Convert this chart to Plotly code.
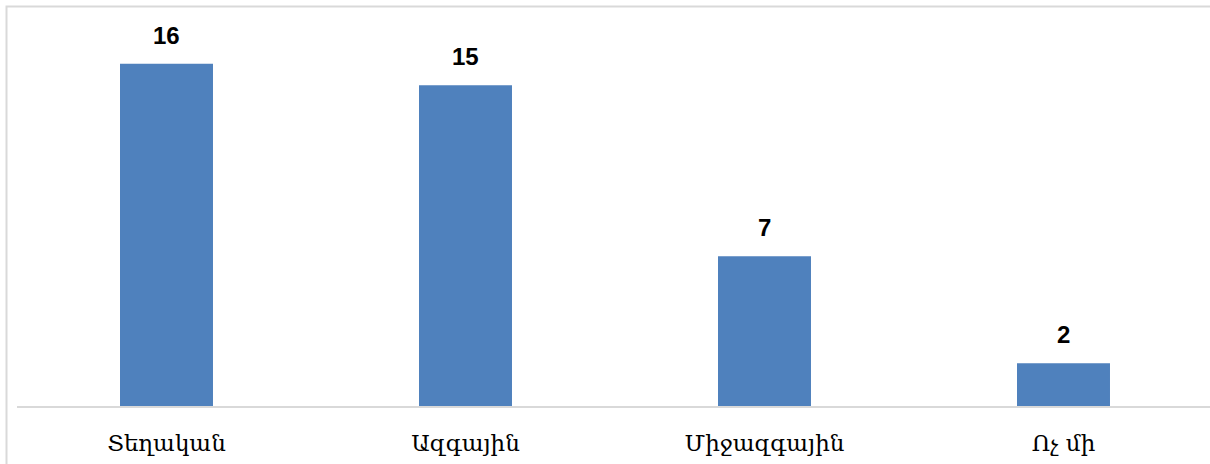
import plotly.graph_objects as go

categories = ["Տեղական", "Ազգային", "Միջազգային", "Ոչ մի"]
values = [16, 15, 7, 2]

W, H = 1210, 464
ml, mr, mt, mb = 17, 0, 21, 58
pw = W - ml - mr
ph = H - mt - mb

fig = go.Figure()
fig.add_trace(go.Bar(
    x=categories, y=values,
    marker=dict(color="#4F81BD", line=dict(width=0)),
    width=0.311,
    hoverinfo="skip",
))

for c, v in zip(categories, values):
    fig.add_annotation(
        x=c, y=v, text=f"<b>{v}</b>", showarrow=False,
        yanchor="bottom", yshift=13,
        font=dict(family="Liberation Sans, Arial, sans-serif", size=24, color="#000000"),
    )

fig.add_shape(
    type="rect", xref="paper", yref="paper",
    x0=(6.5 - ml) / pw, x1=1.2, y0=-0.5, y1=1 + (mt - 6.5) / ph,
    line=dict(color="#D9D9D9", width=2), fillcolor="rgba(0,0,0,0)", layer="above",
)

fig.update_layout(
    width=W, height=H,
    margin=dict(l=ml, r=mr, t=mt, b=mb, pad=0),
    paper_bgcolor="white", plot_bgcolor="white",
    showlegend=False,
    xaxis=dict(
        range=[-0.5, 3.49], showgrid=False, zeroline=False,
        showline=True, linecolor="#D9D9D9", linewidth=2,
        ticks="", ticklabelstandoff=15,
        tickfont=dict(family="DejaVu Serif, serif", size=23, color="#000000"),
    ),
    yaxis=dict(range=[0, 18], visible=False, showgrid=False, zeroline=False),
)

fig.write_html(
    "out.html",
    config={"displayModeBar": False, "staticPlot": True},
    post_script="document.body.style.margin='0';document.body.style.overflow='hidden';",
)
